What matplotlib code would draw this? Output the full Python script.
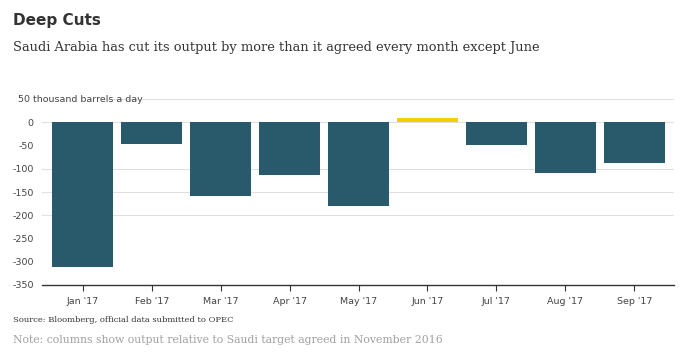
import matplotlib
matplotlib.use("Agg")
import matplotlib.pyplot as plt

months = ["Jan '17", "Feb '17", "Mar '17", "Apr '17", "May '17",
          "Jun '17", "Jul '17", "Aug '17", "Sep '17"]
values = [-311, -47, -159, -114, -180, 10, -49, -109, -87]
y_ticks = [0, -50, -100, -150, -200, -250, -300, -350]
grid_at = [50, 0, -100, -150, -200]

fig = plt.figure(figsize=(6.95, 3.56), dpi=100)
ax = fig.add_axes([42 / 695, 1 - 285 / 356, 632 / 695, 186 / 356])

colors = ["#F5D000" if v > 0 else "#285A6C" for v in values]
x = list(range(len(months)))
ax.bar(x, values, width=0.885, color=colors, zorder=2)

for g in grid_at:
    if g == 50:
        ax.axhline(g, xmin=(108 - 42) / 632, color="#e0e0e0", lw=0.8, zorder=1)
    else:
        ax.axhline(g, color="#e0e0e0", lw=0.8, zorder=1)

ax.set_xlim(-0.59, 8.575)
ax.set_ylim(-350, 50)
ax.set_xticks(x)
ax.set_xticklabels(months)
ax.set_yticks(y_ticks)
ax.set_yticklabels([str(t) for t in y_ticks])
ax.tick_params(axis="x", length=4, width=0.8, color="#333333", labelsize=6.8,
               labelcolor="#444444", pad=5)
ax.tick_params(axis="y", length=0, labelsize=6.8, labelcolor="#444444", pad=6)

for s in ["top", "right", "left"]:
    ax.spines[s].set_visible(False)
ax.spines["bottom"].set_color("#333333")
ax.spines["bottom"].set_linewidth(1.0)

fig.text(18 / 695, 1 - 99 / 356, "50 thousand barrels a day", fontsize=6.8,
         color="#444444", va="center", ha="left")

fig.text(13 / 695, 1 - 20 / 356, "Deep Cuts", fontsize=11, fontweight="bold",
         color="#333333", va="center", ha="left")
fig.text(13 / 695, 1 - 47 / 356,
         "Saudi Arabia has cut its output by more than it agreed every month except June",
         fontsize=9.4, family="DejaVu Serif", color="#333333", va="center", ha="left")
fig.text(13 / 695, 1 - 320 / 356, "Source: Bloomberg, official data submitted to OPEC",
         fontsize=6, family="DejaVu Serif", color="#333333", va="center", ha="left")
fig.text(13 / 695, 1 - 340 / 356,
         "Note: columns show output relative to Saudi target agreed in November 2016",
         fontsize=7.8, family="DejaVu Serif", color="#a0a0a0", va="center", ha="left")

fig.savefig("out.png", dpi=100)
